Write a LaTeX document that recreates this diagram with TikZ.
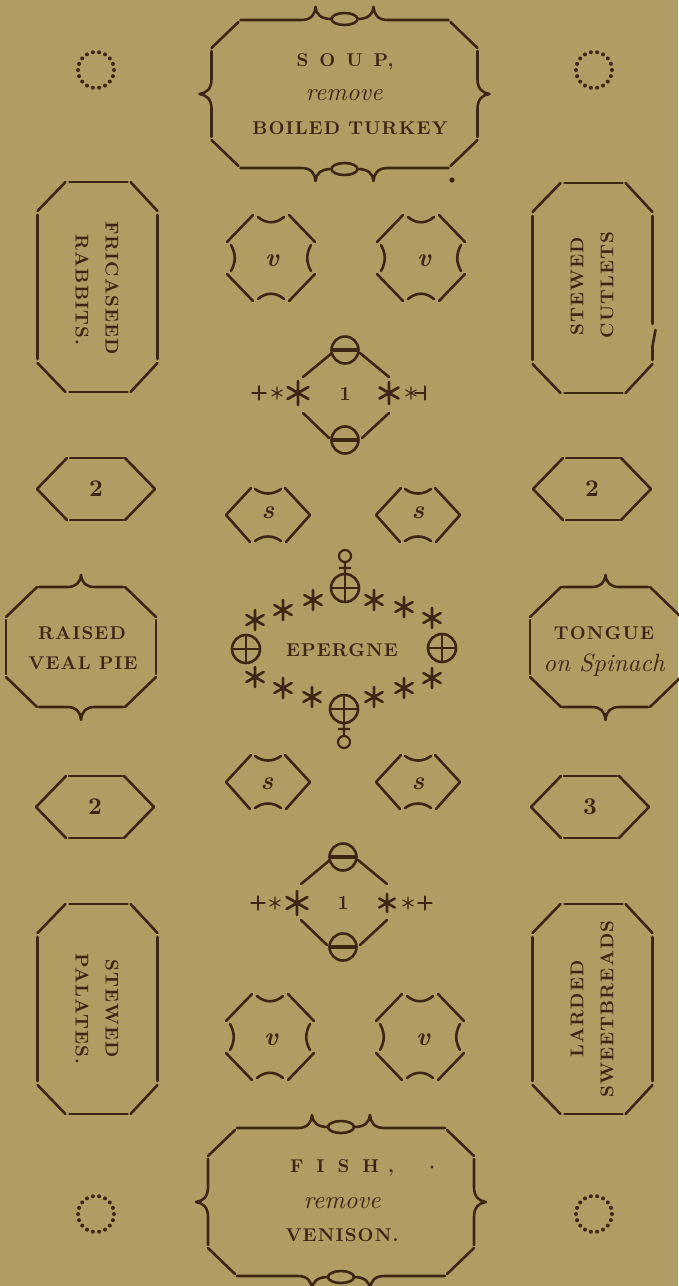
\documentclass[tikz,border=0pt]{standalone}
\usepackage{fontspec}
\setmainfont{lmroman10}[Extension=.otf,UprightFont=*-regular,ItalicFont=*-italic,BoldFont=*-bold,BoldItalicFont=*-bolditalic]
\newfontfamily\spacedfont{lmroman10}[Extension=.otf,UprightFont=*-bold,LetterSpace=6]
\definecolor{paper}{HTML}{B19D63}
\definecolor{ink}{HTML}{3E2616}
\tikzset{
  inkline/.style={draw=ink,line width=2.6pt,line cap=round,line join=round},
  thinline/.style={draw=ink,line width=1.1pt,line cap=round},
  capstext/.style={text=ink,inner sep=0pt,font=\spacedfont\fontsize{18.5}{20}\selectfont},
  italtext/.style={text=ink,inner sep=0pt,font=\fontsize{25}{28}\selectfont\itshape},
  numtext/.style={text=ink,inner sep=0pt,font=\fontsize{24}{26}\selectfont\bfseries},
  lettertext/.style={text=ink,inner sep=0pt,font=\fontsize{26}{28}\selectfont\bfseries\itshape},
  onetext/.style={text=ink,inner sep=0pt,font=\fontsize{20}{22}\selectfont\bfseries},
}
% ornamented end box (soup / fish)
\newcommand{\capBox}[2]{%
\begin{scope}[shift={(#1,#2)}]
\draw[inkline] (-104,-74) -- (-43,-74) .. controls (-33,-74) and (-29.5,-80) .. (-29,-87) .. controls (-28.5,-80) and (-24,-75) .. (-13,-75);
\draw[inkline] (0,-75) ellipse [x radius=13pt,y radius=6pt];
\draw[inkline] (13,-75) .. controls (24,-75) and (28.5,-80) .. (29,-87) .. controls (29.5,-80) and (33,-74) .. (43,-74) -- (104,-74);
\draw[inkline] (106,-72) -- (133,-46);
\draw[inkline] (133,-43) -- (133,-15) .. controls (133,-5) and (138,-1) .. (145,0) .. controls (138,1) and (133,5) .. (133,15) -- (133,43);
\draw[inkline] (133,46) -- (106,72);
\draw[inkline] (104,74) -- (43,74) .. controls (33,74) and (29.5,80) .. (29,87) .. controls (28.5,80) and (24,75) .. (13,75);
\draw[inkline] (0,75) ellipse [x radius=13pt,y radius=6pt];
\draw[inkline] (-13,75) .. controls (-24,75) and (-28.5,80) .. (-29,87) .. controls (-29.5,80) and (-33,74) .. (-43,74) -- (-104,74);
\draw[inkline] (-106,72) -- (-133,46);
\draw[inkline] (-133,43) -- (-133,15) .. controls (-133,5) and (-138,1) .. (-145,0) .. controls (-138,-1) and (-133,-5) .. (-133,-15) -- (-133,-43);
\draw[inkline] (-133,-46) -- (-106,-72);
\end{scope}}
% tall side box (sides drawn separately)
\newcommand{\tallTop}[2]{%
\begin{scope}[shift={(#1,#2)}]
\draw[inkline] (-60,-76) -- (-32,-105);
\draw[inkline] (-28,-105) -- (30,-105);
\draw[inkline] (33,-105) -- (60,-76);
\draw[inkline] (60,76) -- (33,105);
\draw[inkline] (30,105) -- (-28,105);
\draw[inkline] (-32,105) -- (-60,76);
\draw[inkline] (-60,72) -- (-60,-72);
\end{scope}}
\newcommand{\tallBox}[2]{%
\tallTop{#1}{#2}
\begin{scope}[shift={(#1,#2)}]
\draw[inkline] (60,-72) -- (60,72);
\end{scope}}
% wide side box with cusps
\newcommand{\wideBox}[3]{%
\begin{scope}[shift={(#1,#2)}]
\draw[inkline] (-#3,-30) -- ({-#3+31},-60);
\draw[inkline] ({-#3+33},-60) -- (-14,-60) .. controls (-5,-60) and (-1,-64) .. (0,-72) .. controls (1,-64) and (5,-60) .. (14,-60) -- ({#3-33},-60);
\draw[inkline] ({#3-31},-60) -- (#3,-30);
\draw[inkline] (#3,-27) -- (#3,27);
\draw[inkline] (#3,30) -- ({#3-31},60);
\draw[inkline] ({#3-33},60) -- (14,60) .. controls (5,60) and (1,64) .. (0,73) .. controls (-1,64) and (-5,60) .. (-14,60) -- ({-#3+33},60);
\draw[inkline] ({-#3+31},60) -- (-#3,30);
\draw[inkline] (-#3,27) -- (-#3,-27);
\end{scope}}
% hexagon plate
\newcommand{\hexBox}[2]{%
\begin{scope}[shift={(#1,#2)}]
\draw[inkline] (-29,-31) -- (-59,0) -- (-29,31);
\draw[inkline] (29,-31) -- (59,0) -- (29,31);
\draw[inkline] (-26,-31) -- (27,-31);
\draw[inkline] (-26,31) -- (27,31);
\end{scope}}
% octagon with concave sides
\newcommand{\vOct}[2]{%
\begin{scope}[shift={(#1,#2)}]
\draw[inkline] (-44,-16) -- (-18,-43);
\draw[inkline] (-13,-41) .. controls (-5,-34) and (5,-34) .. (13,-41);
\draw[inkline] (18,-43) -- (44,-16);
\draw[inkline] (40,-13) .. controls (35,-4) and (35,4) .. (40,13);
\draw[inkline] (44,16) -- (18,43);
\draw[inkline] (13,41) .. controls (5,34) and (-5,34) .. (-13,41);
\draw[inkline] (-18,43) -- (-44,16);
\draw[inkline] (-40,13) .. controls (-35,4) and (-35,-4) .. (-40,-13);
\end{scope}}
% small hexagon with concave top and bottom
\newcommand{\sHex}[2]{%
\begin{scope}[shift={(#1,#2)}]
\draw[inkline] (-17,-27) -- (-42,0) -- (-18,27);
\draw[inkline] (17,-27) -- (42,0) -- (18,27);
\draw[inkline] (-13,-26) .. controls (-5,-20) and (5,-20) .. (13,-26);
\draw[inkline] (13,26) .. controls (5,20) and (-5,20) .. (-13,26);
\end{scope}}
% circle with bar
\newcommand{\barCirc}[2]{%
\draw[inkline] (#1,#2) circle [radius=13.5pt];
\draw[draw=ink,line width=3.2pt] ({#1-12},{#2}) -- ({#1+12},{#2});}
% circle with cross
\newcommand{\crossCirc}[2]{%
\draw[inkline] (#1,#2) circle [radius=14pt];
\draw[draw=ink,line width=2.2pt] ({#1-14},#2) -- ({#1+14},#2) ({#1},{#2-14}) -- ({#1},{#2+14});}
% diamond plate
\newcommand{\diamPlate}[2]{%
\barCirc{#1}{#2-45}\barCirc{#1}{#2+45}
\begin{scope}[shift={(#1,#2)}]
\draw[inkline] (-13,-42) -- (-42,-18);
\draw[inkline] (15,-42) -- (44,-18);
\draw[inkline] (-42,18) -- (-16,43);
\draw[inkline] (17,43) -- (44,18);
\end{scope}}
% asterisk
\newcommand{\astr}[4]{%
\begin{scope}[shift={(#1,#2)}]
\draw[draw=ink,line width=#4,line cap=round] (90:#3) -- (270:#3) (30:#3) -- (210:#3) (150:#3) -- (330:#3);
\end{scope}}
% dotted ring
\newcommand{\dotRing}[2]{%
\begin{scope}[shift={(#1,#2)}]
\foreach \a in {0,20,...,340} \fill[ink] (\a:18) circle [radius=2pt];
\end{scope}}
% small cross mark
\newcommand{\smallPlus}[2]{%
\draw[thinline] ({#1-7},#2) -- ({#1+7},#2) (#1,{#2-7}) -- (#1,{#2+7});}

\begin{document}
\begin{tikzpicture}[x=1pt,y=-1pt]
\fill[paper] (0,0) rectangle (678,1286);
\useasboundingbox (0,0) rectangle (678,1286);

% corner rings
\dotRing{96}{70}
\dotRing{594}{70}
\dotRing{96}{1214}
\dotRing{594}{1214}

% top and bottom
\capBox{344.5}{94}
\node[capstext] (soup) at (345,62) {S\hspace{11pt}O\hspace{11pt}U\hspace{11pt}P,};
\node[italtext] (remove1) at (344,95) {remove};
\node[capstext] (turkey) at (350,128) {BOILED TURKEY};
\fill[ink] (452,180) circle [radius=2.6pt];

\capBox{341}{1202}
\node[capstext] (fish) at (342,1168) {F\hspace{13pt}I\hspace{13pt}S\hspace{13pt}H\hspace{9pt},};
\node[italtext] (remove2) at (342,1203) {remove};
\node[capstext] (venison) at (342,1235) {VENISON.};
\fill[ink] (432,1167) circle [radius=1.6pt];

% tall side boxes
\tallBox{97.5}{287}
\node[capstext,rotate=-90] (fric) at (112,288) {FRICASEED};
\node[capstext,rotate=-90] (rabbits) at (82,290) {RABBITS.};
\tallTop{592.5}{288}
\draw[inkline] (652.5,216) -- (652.5,324);
\draw[inkline] (655.5,330) -- (652.5,346) -- (652.5,360);
\node[capstext,rotate=90] (stewed1) at (577,286) {STEWED};
\node[capstext,rotate=90] (cutlets) at (607,285) {CUTLETS};
\tallBox{97.5}{1009}
\node[capstext,rotate=-90] (stewed2) at (112,1009) {STEWED};
\node[capstext,rotate=-90] (palates) at (82,1009) {PALATES.};
\tallBox{592.5}{1009}
\node[capstext,rotate=90] (larded) at (577,1009) {LARDED};
\node[capstext,rotate=90] (sweet) at (607,1009) {SWEETBREADS};

% hexagons
\hexBox{96}{489}
\node[numtext] (n2a) at (96,489) {2};
\hexBox{592}{489}
\node[numtext] (n2b) at (592,489) {2};
\hexBox{95}{807}
\node[numtext] (n2c) at (95,807) {2};
\hexBox{590}{807}
\node[numtext] (n3) at (590,807) {3};

% wide side boxes
\wideBox{81}{647}{75}
\node[capstext] (raised) at (82,633) {RAISED};
\node[capstext] (vealpie) at (83,663) {VEAL PIE};
\wideBox{605.5}{647}{75.5}
\node[capstext] (tongue) at (604,633) {TONGUE};
\node[italtext] (spinach) at (604,665) {on Spinach};

% octagons
\vOct{271}{258}
\node[lettertext] (va) at (272,261) {v};
\vOct{421}{258}
\node[lettertext] (vb) at (424,261) {v};
\vOct{270}{1037}
\node[lettertext] (vc) at (271,1040) {v};
\vOct{420}{1037}
\node[lettertext] (vd) at (423,1040) {v};

% s plates
\sHex{268}{515}
\node[lettertext] (sa) at (268,513) {s};
\sHex{418}{515}
\node[lettertext] (sb) at (418,513) {s};
\sHex{268}{782}
\node[lettertext] (sc) at (267,784) {s};
\sHex{418}{782}
\node[lettertext] (sd) at (418,784) {s};

% diamonds
\diamPlate{345}{395}
\node[onetext] (one1) at (345,394) {1};
\astr{298}{393}{12}{2.8pt}
\astr{389}{393}{11}{2.8pt}
\smallPlus{259}{393}
\astr{277}{393}{6}{1.1pt}
\astr{411}{393}{6}{1.1pt}
\draw[thinline] (415,393) -- (425,393) (425,386) -- (425,400);

\diamPlate{343}{902}
\node[onetext] (one2) at (343,903) {1};
\astr{297}{903}{12}{2.8pt}
\astr{387}{903}{9}{2.6pt}
\smallPlus{258}{903}
\astr{275}{903}{6}{1.1pt}
\astr{408}{903}{6}{1.1pt}
\smallPlus{425}{903}

% epergne
\node[capstext] (epergne) at (342,650) {EPERGNE};
\crossCirc{345}{588}
\crossCirc{246}{649}
\crossCirc{442}{648}
\crossCirc{344}{709}
\draw[draw=ink,line width=2.2pt] (345,556) circle [radius=6pt] (345,562) -- (345,574) (339,568) -- (351,568);
\draw[draw=ink,line width=2.2pt] (344,742) circle [radius=6pt] (344,723) -- (344,736) (338,729) -- (350,729);
\foreach \x/\y in {255/620,283/610,313/600,374/600,404/607,432/618,255/677,283/688,312/697,374/697,404/688,432/678}
  {\astr{\x}{\y}{10}{2.6pt}}
\end{tikzpicture}
\end{document}
